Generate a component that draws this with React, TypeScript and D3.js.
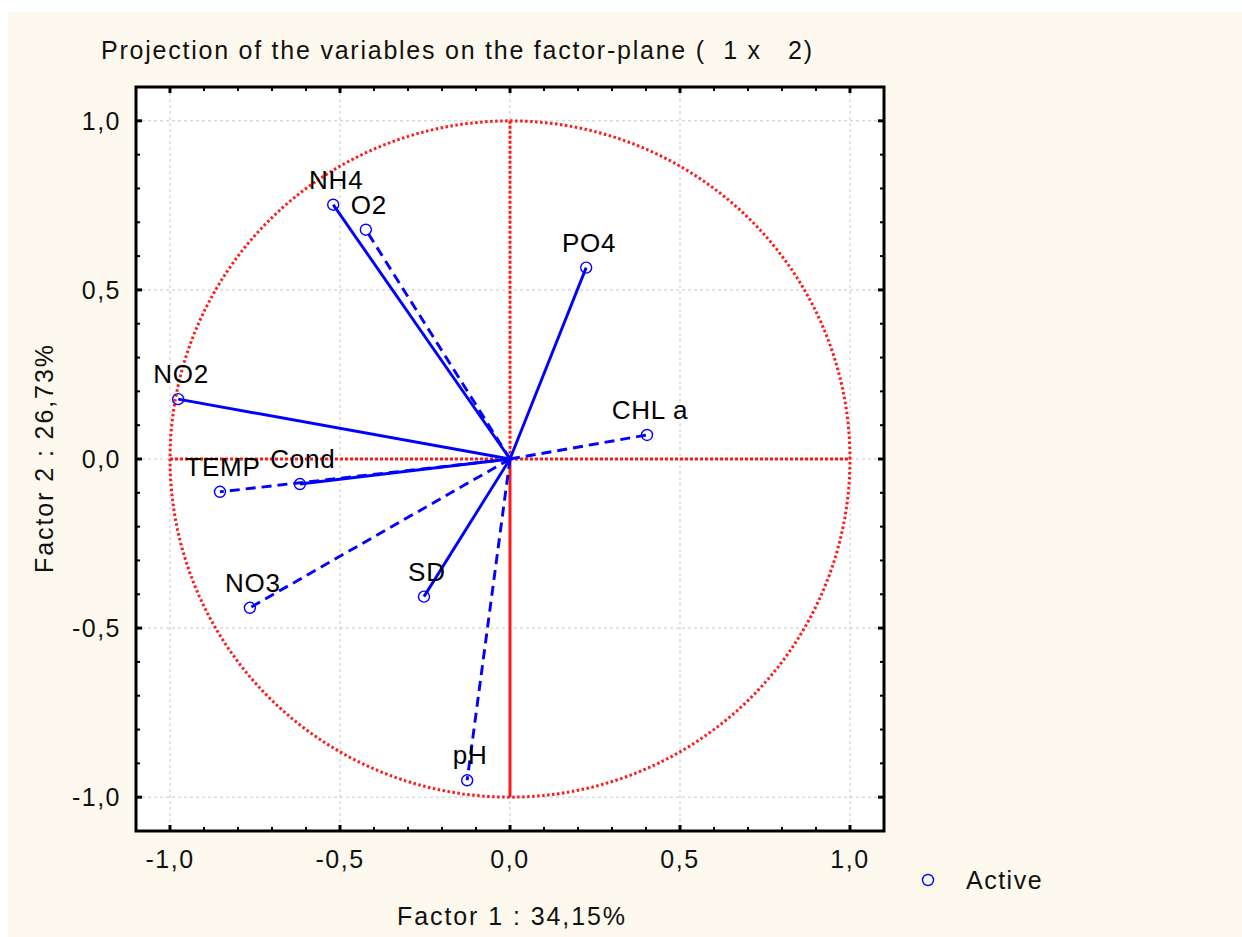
import React from 'react';
import * as d3 from 'd3';

const variables = ['NH4', 'O2', 'PO4', 'NO2', 'CHL a', 'TEMP', 'Cond', 'NO3', 'SD', 'pH'];
const factor1 = [-0.52, -0.424, 0.224, -0.976, 0.403, -0.853, -0.618, -0.765, -0.253, -0.126];
const factor2 = [0.752, 0.678, 0.566, 0.177, 0.071, -0.097, -0.074, -0.44, -0.407, -0.95];
const dashed = [false, true, false, false, true, true, false, true, false, true];
const majorTicks = [-1, -0.5, 0, 0.5, 1];
const minorTicks = d3.range(-11, 12).map(i => i / 10);

const width = 1242;
const height = 937;
const font = '"Liberation Sans", Arial, sans-serif';

const fmt = (v: number) => d3.format('.1f')(v).replace('.', ',').replace('−', '-');

const App: React.FC = () => {
  const x = d3.scaleLinear().domain([-1.1, 1.1]).range([136, 884]);
  const y = d3.scaleLinear().domain([-1.1, 1.1]).range([831, 87]);
  const [x0, x1] = x.range();
  const [y0, y1] = y.range();

  // unit circle
  const circle = d3.range(0, 361, 2).map(a => [Math.cos(a * Math.PI / 180), Math.sin(a * Math.PI / 180)]);
  const circlePath = d3.line<number[]>().x(d => x(d[0])).y(d => y(d[1]))(circle) || '';

  return (
    <svg width={width} height={height} style={{ position: 'absolute', left: 0, top: 0 }} fontFamily={font}>
      <rect x={0} y={0} width={width} height={height} fill="#ffffff" />
      <rect x={8} y={12} width={width - 8} height={height - 12} fill="#fef9ee" />
      <text x={101} y={59} fontSize={25} fill="#111" textLength={711} lengthAdjust="spacing" style={{ whiteSpace: 'pre' }}>
        {'Projection of the variables on the factor-plane (  1 x   2)'}
      </text>

      <rect x={x0} y={y1} width={x1 - x0} height={y0 - y1} fill="#ffffff" />

      {/* grid */}
      {majorTicks.map(t => (
        <g key={'g' + t}>
          <line x1={x(t)} x2={x(t)} y1={y1} y2={y0} stroke="#c8c8c8" strokeDasharray="3,3" />
          <line x1={x0} x2={x1} y1={y(t)} y2={y(t)} stroke="#c8c8c8" strokeDasharray="3,3" />
        </g>
      ))}

      <path d={circlePath} fill="none" stroke="#ff1a1a" strokeWidth={3} strokeDasharray="2.5,2.5" />
      <line x1={x(-1)} x2={x(1)} y1={y(0)} y2={y(0)} stroke="#ff1a1a" strokeWidth={3} strokeDasharray="3,2" />
      <line x1={x(0)} x2={x(0)} y1={y(1)} y2={y(0)} stroke="#ff1a1a" strokeWidth={3} strokeDasharray="3,2" />
      <line x1={x(0)} x2={x(0)} y1={y(0)} y2={y(-1)} stroke="#ff1a1a" strokeWidth={3} />

      {/* vectors */}
      {variables.map((v, i) => (
        <line key={'l' + v} x1={x(0)} y1={y(0)} x2={x(factor1[i])} y2={y(factor2[i])}
          stroke="#0000ff" strokeWidth={2.9} strokeDasharray={dashed[i] ? '10,6' : undefined} />
      ))}
      {variables.map((v, i) => (
        <g key={'p' + v}>
          <circle cx={x(factor1[i])} cy={y(factor2[i])} r={5.5} fill="none" stroke="#0000ff" strokeWidth={1.4} />
          <text x={x(factor1[i]) + 3} y={y(factor2[i]) - 16} textAnchor="middle" fontSize={26}
            letterSpacing={0.8} fill="#000">{v}</text>
        </g>
      ))}

      {/* frame */}
      <rect x={x0} y={y1} width={x1 - x0} height={y0 - y1} fill="none" stroke="#000" strokeWidth={3} />
      {minorTicks.map(t => {
        const major = majorTicks.some(m => Math.abs(m - t) < 1e-9);
        const len = major ? 6 : 4;
        return (
          <g key={'t' + t} stroke="#000" strokeWidth={major ? 3 : 2}>
            <line x1={x(t)} x2={x(t)} y1={y0} y2={y0 - len} />
            <line x1={x(t)} x2={x(t)} y1={y1} y2={y1 + len} />
            <line x1={x0} x2={x0 + len} y1={y(t)} y2={y(t)} />
            <line x1={x1} x2={x1 - len} y1={y(t)} y2={y(t)} />
          </g>
        );
      })}

      {/* tick labels */}
      {majorTicks.map(t => (
        <g key={'tl' + t} fontSize={25} fill="#111" letterSpacing={1.5}>
          <text x={x(t)} y={868} textAnchor="middle">{fmt(t)}</text>
          <text x={121} y={y(t) + 9} textAnchor="end">{fmt(t)}</text>
        </g>
      ))}

      <text x={397} y={925} fontSize={25} fill="#111" textLength={228} lengthAdjust="spacing">Factor 1 : 34,15%</text>
      <text transform={`translate(53,${y(0) + 114}) rotate(-90)`} fontSize={25} fill="#111"
        textLength={228} lengthAdjust="spacing">Factor 2 : 26,73%</text>

      {/* legend */}
      <circle cx={928} cy={880} r={5.5} fill="none" stroke="#0000ff" strokeWidth={1.4} />
      <text x={966} y={889} fontSize={25} fill="#111" letterSpacing={1.5}>Active</text>
    </svg>
  );
};

export default App;
